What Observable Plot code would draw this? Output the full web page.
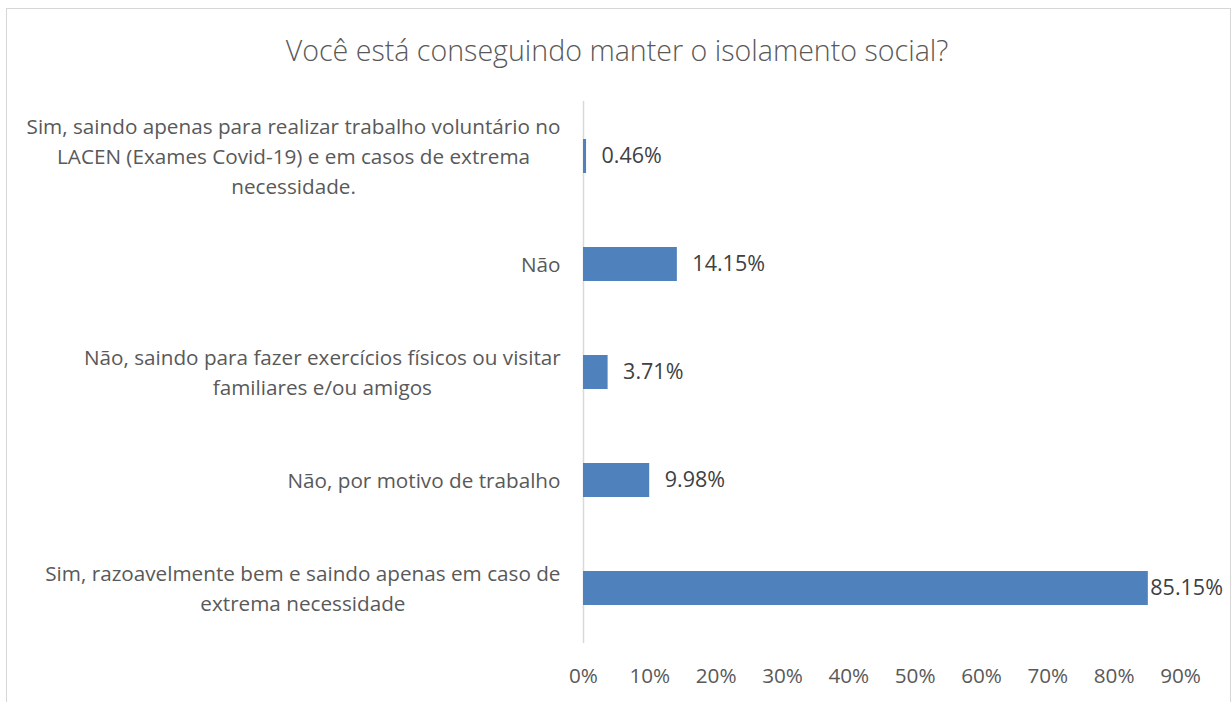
<!DOCTYPE html>
<html><head><meta charset="utf-8">
<script src="https://cdn.jsdelivr.net/npm/d3@7"></script>
<script src="https://cdn.jsdelivr.net/npm/@observablehq/plot@0.6"></script>
<style>
body{margin:0;background:#fff;}
#page{position:relative;width:1232px;height:702px;overflow:hidden;font-family:"Open Sans",sans-serif;background:#fff;}
#frame{position:absolute;left:6px;top:8px;width:1225px;height:720px;border:1px solid #d6d6d6;box-sizing:border-box;}
#title{position:absolute;left:0;width:1234px;top:33px;text-align:center;font-size:28.6px;line-height:33px;color:#595959;font-weight:300;white-space:nowrap;}
#chart{position:absolute;left:0;top:0;}
</style></head>
<body><div id="page"><div id="frame"></div><div id="title">Você está conseguindo manter o isolamento social?</div><div id="chart"></div></div>
<script>
const categories = [
  "Sim, saindo apenas para realizar trabalho voluntário no LACEN (Exames Covid-19) e em casos de extrema necessidade.",
  "Não",
  "Não, saindo para fazer exercícios físicos ou visitar familiares e/ou amigos",
  "Não, por motivo de trabalho",
  "Sim, razoavelmente bem e saindo apenas em caso de extrema necessidade"
];
const categoryLabels = [
  "Sim, saindo apenas para realizar trabalho voluntário no\nLACEN (Exames Covid-19) e em casos de extrema\nnecessidade.",
  "Não",
  "Não, saindo para fazer exercícios físicos ou visitar\nfamiliares e/ou amigos",
  "Não, por motivo de trabalho",
  "Sim, razoavelmente bem e saindo apenas em caso de\nextrema necessidade"
];
const values = [0.46, 14.15, 3.71, 9.98, 85.15];
const xTicks = [0, 10, 20, 30, 40, 50, 60, 70, 80, 90];

const data = categories.map((c, i) => ({category: c, value: values[i]}));
const fmt = v => v.toFixed(2) + "%";

const chart = Plot.plot({
  width: 1232,
  height: 702,
  marginTop: 101,
  marginBottom: 59,
  marginLeft: 583,
  marginRight: 52,
  style: {fontSize: "20.7px", fontFamily: "'Open Sans', sans-serif", color: "#595959", background: "transparent", overflow: "visible"},
  x: {domain: [0, 90], label: null},
  y: {domain: categories, paddingInner: 0.686, paddingOuter: 0.343, label: null},
  marks: [
    Plot.ruleX([0], {stroke: "#d9d9d9", strokeWidth: 1.5}),
    Plot.barX(data, {x: "value", y: "category", fill: "#4f81bd"}),
    Plot.text(data.filter(d => d.value < 80), {x: "value", y: "category", text: d => fmt(d.value), textAnchor: "start", dx: 15, fill: "#404040", fontSize: 21.5}),
    Plot.text(data.filter(d => d.value >= 80), {x: "value", y: "category", text: d => fmt(d.value), textAnchor: "start", dx: 2, fill: "#404040", fontSize: 21.5}),
    Plot.axisX({ticks: xTicks, tickFormat: d => d + "%", tickSize: 0, tickPadding: 25, label: null}),
    Plot.axisY({tickSize: 0, tickPadding: 23, label: null, lineHeight: 1.45, dy: -2,
      tickFormat: d => categoryLabels[categories.indexOf(d)]})
  ]
});
document.getElementById("chart").appendChild(chart);

// center multi-line labels within their right-aligned block (Excel style)
d3.select(chart).selectAll('g[aria-label="y-axis tick label"] text').each(function() {
  const b = this.getBBox();
  const cx = b.x + b.width / 2;
  this.setAttribute("text-anchor", "middle");
  const tspans = this.querySelectorAll("tspan");
  if (tspans.length) tspans.forEach(t => t.setAttribute("x", cx));
  else this.setAttribute("x", cx);
});
</script>
</body></html>
